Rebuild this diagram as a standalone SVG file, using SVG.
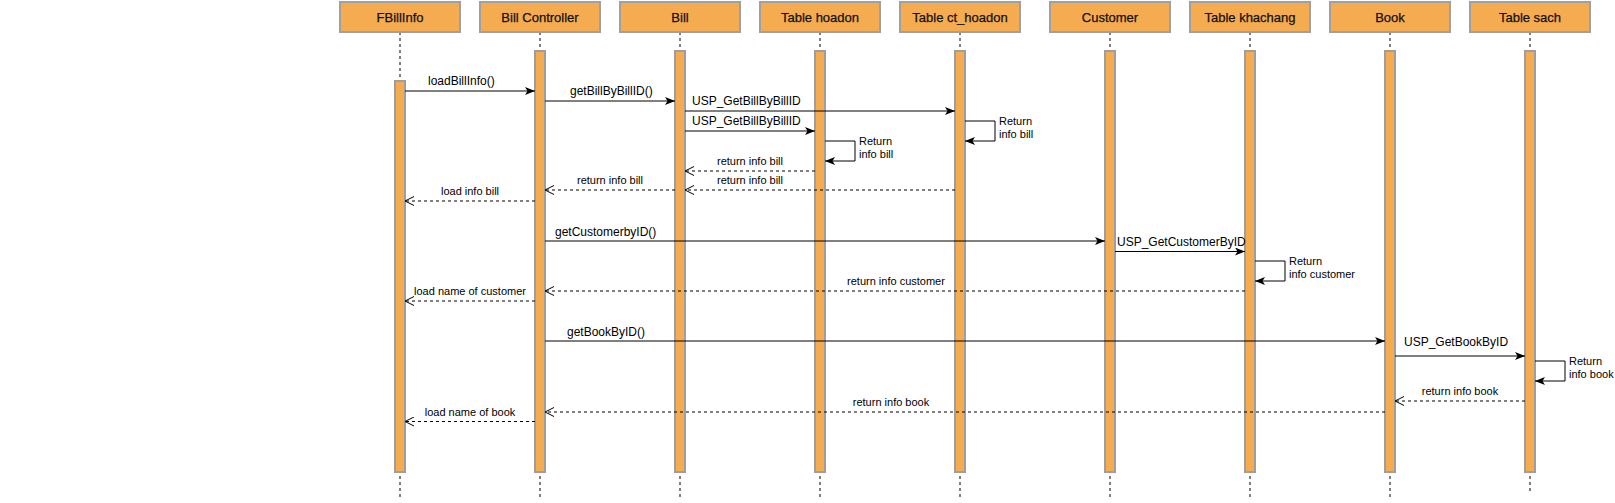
<svg xmlns="http://www.w3.org/2000/svg" width="1615" height="503" viewBox="0 0 1615 503">
<style>
.hdr{fill:#F5AB4F;stroke:#A0A0A0;stroke-width:2}
.bar{fill:#F5AB4F;stroke:#9E9E9E;stroke-width:2}
.life{stroke:#000;stroke-width:1;stroke-dasharray:3,3}
.ht{font-family:"Liberation Sans",Arial,sans-serif;font-size:13px;fill:#111;stroke:#111;stroke-width:0.25;text-anchor:middle}
.m{stroke:#000;stroke-width:1;fill:none}
.r{stroke:#000;stroke-width:1;fill:none;stroke-dasharray:3,3}
.t{font-family:"Liberation Sans",Arial,sans-serif;font-size:12px;fill:#000}
.s{font-family:"Liberation Sans",Arial,sans-serif;font-size:11px;fill:#000}
.c{text-anchor:middle}
</style>
<defs>
<marker id="arr" viewBox="0 0 10 8" refX="10" refY="4" markerWidth="10" markerHeight="8" markerUnits="userSpaceOnUse" orient="auto">
<path d="M0,0 L10,4 L0,8 L2.5,4 z" fill="#000"/>
</marker>
<marker id="open" viewBox="0 0 10 10" refX="9" refY="5" markerWidth="10" markerHeight="10" markerUnits="userSpaceOnUse" orient="auto">
<path d="M0,0.5 L9,5 L0,9.5" fill="none" stroke="#000" stroke-width="1"/>
</marker>
</defs>
<rect width="1615" height="503" fill="#fff"/>

<g id="lifelines">
<line class="life" x1="400" y1="32" x2="400" y2="498"/>
<line class="life" x1="540" y1="32" x2="540" y2="498"/>
<line class="life" x1="680" y1="32" x2="680" y2="498"/>
<line class="life" x1="820" y1="32" x2="820" y2="498"/>
<line class="life" x1="960" y1="32" x2="960" y2="498"/>
<line class="life" x1="1110" y1="32" x2="1110" y2="498"/>
<line class="life" x1="1250" y1="32" x2="1250" y2="498"/>
<line class="life" x1="1390" y1="32" x2="1390" y2="498"/>
<line class="life" x1="1530" y1="32" x2="1530" y2="492"/>
</g>

<g id="FBillInfo"><rect class="hdr" x="340" y="2" width="120" height="30"/><text class="ht" x="400" y="21.5">FBillInfo</text><rect class="bar" x="395" y="81" width="10" height="391"/></g>
<g id="BillController"><rect class="hdr" x="480" y="2" width="120" height="30"/><text class="ht" x="540" y="21.5">Bill Controller</text><rect class="bar" x="535" y="51" width="10" height="421"/></g>
<g id="Bill"><rect class="hdr" x="620" y="2" width="120" height="30"/><text class="ht" x="680" y="21.5">Bill</text><rect class="bar" x="675" y="51" width="10" height="421"/></g>
<g id="TableHoadon"><rect class="hdr" x="760" y="2" width="120" height="30"/><text class="ht" x="820" y="21.5">Table hoadon</text><rect class="bar" x="815" y="51" width="10" height="421"/></g>
<g id="TableCtHoadon"><rect class="hdr" x="900" y="2" width="120" height="30"/><text class="ht" x="960" y="21.5">Table ct_hoadon</text><rect class="bar" x="955" y="51" width="10" height="421"/></g>
<g id="Customer"><rect class="hdr" x="1050" y="2" width="120" height="30"/><text class="ht" x="1110" y="21.5">Customer</text><rect class="bar" x="1105" y="51" width="10" height="421"/></g>
<g id="TableKhachang"><rect class="hdr" x="1190" y="2" width="120" height="30"/><text class="ht" x="1250" y="21.5">Table khachang</text><rect class="bar" x="1245" y="51" width="10" height="421"/></g>
<g id="Book"><rect class="hdr" x="1330" y="2" width="120" height="30"/><text class="ht" x="1390" y="21.5">Book</text><rect class="bar" x="1385" y="51" width="10" height="421"/></g>
<g id="TableSach"><rect class="hdr" x="1470" y="2" width="120" height="30"/><text class="ht" x="1530" y="21.5">Table sach</text><rect class="bar" x="1525" y="51" width="10" height="421"/></g>

<g id="connectors">
<line class="m" x1="405" y1="91" x2="535" y2="91" marker-end="url(#arr)"/>
<line class="m" x1="545" y1="101" x2="675" y2="101" marker-end="url(#arr)"/>
<line class="m" x1="685" y1="111" x2="955" y2="111" marker-end="url(#arr)"/>
<line class="m" x1="685" y1="131" x2="815" y2="131" marker-end="url(#arr)"/>
<path class="m" d="M825,141 H855 V161 H825" marker-end="url(#arr)"/>
<path class="m" d="M965,121 H995 V141 H965" marker-end="url(#arr)"/>
<line class="r" x1="815" y1="171" x2="685" y2="171" marker-end="url(#open)"/>
<line class="r" x1="955" y1="190" x2="685" y2="190" marker-end="url(#open)"/>
<line class="r" x1="675" y1="190" x2="545" y2="190" marker-end="url(#open)"/>
<line class="r" x1="535" y1="201" x2="405" y2="201" marker-end="url(#open)"/>
<line class="m" x1="545" y1="241" x2="1105" y2="241" marker-end="url(#arr)"/>
<line class="m" x1="1115" y1="251.5" x2="1245" y2="251.5" marker-end="url(#arr)"/>
<path class="m" d="M1255,261 H1285 V281 H1255" marker-end="url(#arr)"/>
<line class="r" x1="1245" y1="291" x2="545" y2="291" marker-end="url(#open)"/>
<line class="r" x1="535" y1="301" x2="405" y2="301" marker-end="url(#open)"/>
<line class="m" x1="545" y1="341" x2="1385" y2="341" marker-end="url(#arr)"/>
<line class="m" x1="1395" y1="356" x2="1525" y2="356" marker-end="url(#arr)"/>
<path class="m" d="M1535,361 H1565 V381 H1535" marker-end="url(#arr)"/>
<line class="r" x1="1525" y1="401" x2="1395" y2="401" marker-end="url(#open)"/>
<line class="r" x1="1385" y1="412" x2="545" y2="412" marker-end="url(#open)"/>
<line class="r" x1="535" y1="421.5" x2="405" y2="421.5" marker-end="url(#open)"/>
</g>

<g id="labels">
<text class="t" x="428" y="85">loadBillInfo()</text>
<text class="t" x="570" y="95">getBillByBillID()</text>
<text class="t" x="692" y="105">USP_GetBillByBillID</text>
<text class="t" x="692" y="125">USP_GetBillByBillID</text>
<text class="s" x="859" y="145">Return</text>
<text class="s" x="859" y="158">info bill</text>
<text class="s" x="999" y="125">Return</text>
<text class="s" x="999" y="138">info bill</text>
<text class="s c" x="750" y="165">return info bill</text>
<text class="s c" x="750" y="184">return info bill</text>
<text class="s c" x="610" y="184">return info bill</text>
<text class="s c" x="470" y="195">load info bill</text>
<text class="t" x="555" y="236">getCustomerbyID()</text>
<text class="t" x="1117" y="246">USP_GetCustomerByID</text>
<text class="s" x="1289" y="265">Return</text>
<text class="s" x="1289" y="278">info customer</text>
<text class="s c" x="896" y="285">return info customer</text>
<text class="s c" x="470" y="295">load name of customer</text>
<text class="t" x="567" y="336">getBookByID()</text>
<text class="t" x="1404" y="346">USP_GetBookByID</text>
<text class="s" x="1569" y="365">Return</text>
<text class="s" x="1569" y="378">info book</text>
<text class="s c" x="1460" y="395">return info book</text>
<text class="s c" x="891" y="406">return info book</text>
<text class="s c" x="470" y="415.5">load name of book</text>
</g>
</svg>
